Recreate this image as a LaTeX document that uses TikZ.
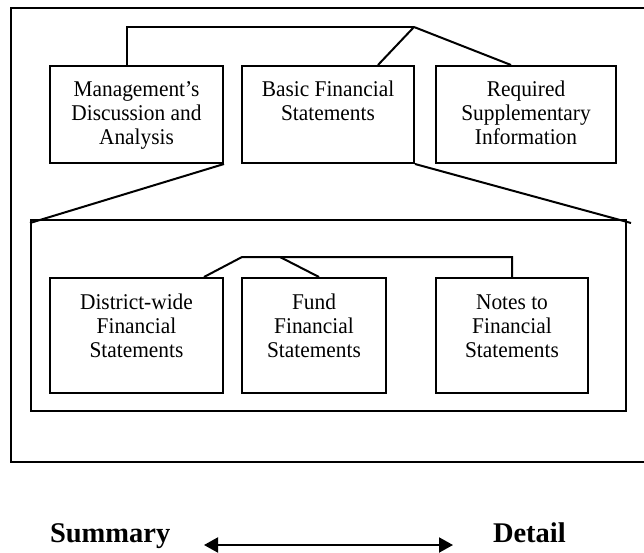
\documentclass[tikz,border=0pt]{standalone}
\usepackage{fontspec}
\setmainfont{Liberation Serif}
\newfontfamily\boxfont{Liberation Serif}[FakeStretch=0.95]
\usetikzlibrary{arrows.meta}
\begin{document}
\begin{tikzpicture}[x=1pt,y=-1pt,line width=2pt,
  box/.style={draw, line width=2pt, inner sep=0pt, anchor=north west},
  lbl/.style={align=center, inner sep=0pt, anchor=north, font=\boxfont\fontsize{22.5}{24}\selectfont},
  bold/.style={inner sep=0pt, anchor=base west, font=\fontsize{28.5}{30}\selectfont\bfseries},
  tip/.tip={Triangle[length=14pt,width=15pt]}]
\useasboundingbox (0,0) rectangle (644,553);
% outer frame (right side runs off the page)
\draw (648,8) -- (10.5,8) -- (10.5,461.5) -- (648,461.5);
% top row
\node[box, minimum width=173pt, minimum height=97pt] (mda) at (49,65) {};
\node[box, minimum width=172pt, minimum height=97pt] (bfs) at (241,65) {};
\node[box, minimum width=180pt, minimum height=97pt] (rsi) at (435,65) {};
\node[lbl] (mdaT) at ([yshift=-15pt]mda.north) {\rule{0pt}{16pt}Management’s\\Discussion and\\Analysis};
\node[lbl] (bfsT) at ([yshift=-15pt]bfs.north) {\rule{0pt}{16pt}Basic Financial\\Statements};
\node[lbl] (rsiT) at ([yshift=-15pt]rsi.north) {\rule{0pt}{16pt}Required\\Supplementary\\Information};
\coordinate (apexA) at (414,27);
\draw ([xshift=-9.5pt]mda.north) |- (apexA);
\draw (apexA) -- ([xshift=50pt]bfs.north);
\draw (apexA) -- ([xshift=-15pt]rsi.north);
% inner frame
\node[box, minimum width=595pt, minimum height=191pt] (inner) at (30,219) {};
\coordinate (innL) at (30,223);
\coordinate (innR) at (631,223);
\draw (mda.south east) -- (innL);
\draw (bfs.south east) -- (innR);
% bottom row
\node[box, minimum width=173pt, minimum height=115pt] (dist) at (49,277) {};
\node[box, minimum width=144pt, minimum height=115pt] (fund) at (241,277) {};
\node[box, minimum width=152pt, minimum height=115pt] (notes) at (435,277) {};
\node[lbl] (distT) at ([yshift=-15pt]dist.north) {\rule{0pt}{16pt}District-wide\\Financial\\Statements};
\node[lbl] (fundT) at ([yshift=-15pt]fund.north) {\rule{0pt}{16pt}Fund\\Financial\\Statements};
\node[lbl] (notesT) at ([yshift=-15pt]notes.north) {\rule{0pt}{16pt}Notes to\\Financial\\Statements};
\coordinate (apexB) at (242,257);
\coordinate (fundJ) at (280,257);
\draw ([xshift=67.5pt]dist.north) -- (apexB) -| (notes.north);
\draw (fundJ) -- ([xshift=5pt]fund.north);
% summary / detail
\node[bold] (sum) at (49,542) {Summary};
\node[bold] (det) at (492,542) {Detail};
\coordinate (aL) at (204,545);
\coordinate (aR) at (453,545);
\draw[tip-tip] (aL) -- (aR);
\end{tikzpicture}
\end{document}
